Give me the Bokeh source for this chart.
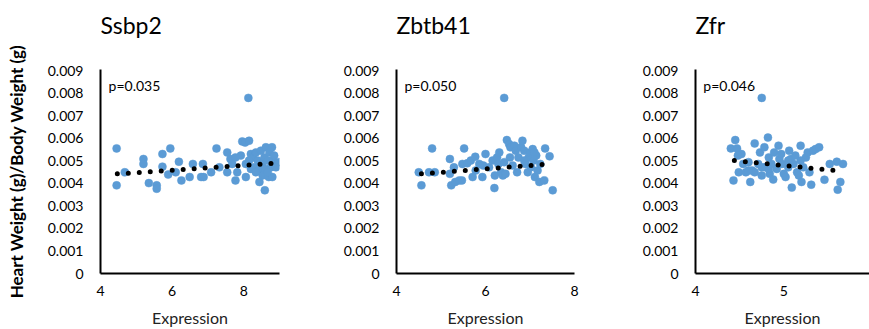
from bokeh.plotting import figure
from bokeh.layouts import row
from bokeh.models import FixedTicker, CustomJSTickFormatter, Label, Range1d, Title
from bokeh.embed import file_html
from bokeh.resources import INLINE

# ---------------- data ----------------
titles = ["Ssbp2", "Zbtb41", "Zfr"]
p_values = ["p=0.035", "p=0.050", "p=0.046"]
y_label = "Heart Weight (g)/Body Weight (g)"
x_label = "Expression"
y_ticks = [0, 0.001, 0.002, 0.003, 0.004, 0.005, 0.006, 0.007, 0.008, 0.009]
x_ticks1 = [4, 6, 8]
x_ticks2 = [4, 6, 8]
x_ticks3 = [4, 5, 6]

ssbp2_x = [4.45, 4.45, 4.68, 5.2, 5.2, 5.35, 5.57, 5.57, 5.73, 5.73, 5.89, 5.95, 6.1, 6.19, 6.26,
           6.49, 6.58, 6.81, 6.86, 6.88, 7.09, 7.24, 7.32, 7.54, 7.54, 7.63, 7.68, 7.77, 7.82, 7.92,
           7.96, 8.04, 8.06, 8.06, 8.13, 8.15, 8.2, 8.2, 8.26, 8.29, 8.34, 8.39, 8.42, 8.44, 8.48,
           8.52, 8.53, 8.58, 8.6, 8.62, 8.59, 8.67, 8.7, 8.72, 8.76, 8.79, 8.82, 8.85, 8.8, 8.98,
           8.67, 8.34, 8.15, 7.77, 8.9]
ssbp2_y = [0.00555, 0.00391, 0.00449, 0.00508, 0.00486, 0.00401, 0.00391, 0.00376, 0.0053, 0.00474,
           0.00439, 0.00555, 0.00449, 0.00496, 0.00413, 0.00428, 0.00486, 0.00428, 0.00486, 0.00428,
           0.00449, 0.00555, 0.00471, 0.00537, 0.00449, 0.00508, 0.00486, 0.00413, 0.00449, 0.00523,
           0.00586, 0.00581, 0.00486, 0.00428, 0.00779, 0.00589, 0.0053, 0.00464, 0.00515, 0.00471,
           0.00537, 0.00501, 0.00457, 0.00406, 0.00545, 0.00486, 0.00435, 0.00515, 0.00464, 0.0056,
           0.00369, 0.00501, 0.00428, 0.00537, 0.00471, 0.0056, 0.00501, 0.00523, 0.00428, 0.00494,
           0.00449, 0.00449, 0.00501, 0.00515, 0.00471]
ssbp2_trend_x = [4.47, 9.0]
ssbp2_trend_y = [0.00442, 0.0049]

zbtb41_x = [4.5, 4.56, 4.73, 4.8, 4.86, 5.2, 5.2, 5.23, 5.29, 5.32, 5.41, 5.47, 5.48, 5.52, 5.59,
            5.67, 5.71, 5.77, 5.78, 5.86, 5.93, 5.95, 6.0, 6.08, 6.16, 6.2, 6.21, 6.26, 6.29, 6.31,
            6.35, 6.39, 6.42, 6.42, 6.45, 6.48, 6.53, 6.55, 6.56, 6.61, 6.65, 6.68, 6.71, 6.74, 6.8,
            6.83, 6.87, 6.9, 6.95, 6.97, 7.01, 7.02, 7.06, 7.08, 7.11, 7.14, 7.17, 7.21, 7.23, 7.32,
            7.34, 7.44, 7.51, 6.87, 7.1]
zbtb41_y = [0.00449, 0.00391, 0.00449, 0.00555, 0.00449, 0.00442, 0.00508, 0.00391, 0.00471, 0.00406,
            0.00413, 0.00413, 0.00486, 0.00555, 0.00489, 0.00501, 0.00428, 0.00518, 0.00457, 0.00486,
            0.00428, 0.00479, 0.0053, 0.00471, 0.00501, 0.00379, 0.00435, 0.00515, 0.00486, 0.00537,
            0.00449, 0.00435, 0.00779, 0.00494, 0.00442, 0.00592, 0.00574, 0.00515, 0.0056, 0.00479,
            0.00567, 0.00545, 0.00449, 0.00515, 0.0056, 0.00589, 0.00545, 0.00486, 0.00449, 0.00515,
            0.00537, 0.00471, 0.00552, 0.00501, 0.00428, 0.00523, 0.00457, 0.00406, 0.00486, 0.00413,
            0.00555, 0.0052, 0.00369, 0.00501, 0.00537]
zbtb41_trend_x = [4.56, 7.44]
zbtb41_trend_y = [0.00442, 0.00486]

zfr_x = [4.4, 4.43, 4.45, 4.47, 4.49, 4.52, 4.54, 4.57, 4.6, 4.62, 4.64, 4.67, 4.67, 4.71, 4.73,
         4.75, 4.75, 4.78, 4.79, 4.82, 4.83, 4.84, 4.86, 4.88, 4.89, 4.92, 4.94, 4.95, 4.97, 5.0,
         5.02, 5.05, 5.06, 5.08, 5.09, 5.11, 5.13, 5.15, 5.17, 5.19, 5.2, 5.22, 5.25, 5.27, 5.29,
         5.31, 5.33, 5.36, 5.4, 5.46, 5.52, 5.6, 5.61, 5.64, 5.67, 4.98, 4.6, 4.48, 5.05, 4.83,
         4.75, 5.19]
zfr_y = [0.00555, 0.00413, 0.00592, 0.00555, 0.00449, 0.0053, 0.00486, 0.00449, 0.00494, 0.00406,
         0.00457, 0.00577, 0.00449, 0.00486, 0.00537, 0.00779, 0.00435, 0.0056, 0.00471, 0.00603,
         0.00515, 0.00442, 0.00486, 0.00417, 0.00537, 0.00464, 0.00567, 0.00508, 0.0053, 0.00442,
         0.00428, 0.00471, 0.00545, 0.00508, 0.00381, 0.00486, 0.00523, 0.00449, 0.00435, 0.00567,
         0.00406, 0.00471, 0.00515, 0.00537, 0.00449, 0.00394, 0.00545, 0.00552, 0.0056, 0.00416,
         0.00486, 0.00496, 0.00372, 0.00406, 0.00486, 0.00486, 0.00457, 0.00523, 0.00501, 0.00464,
         0.00471, 0.00501]
zfr_trend_x = [4.44, 5.65]
zfr_trend_y = [0.00501, 0.00454]

# ---------------- style ----------------
FONT = "Lato"
BLUE = "#5B9BD5"
H = 329
TOP = 69
BOTTOM = 55
Y_END = 0.00905

yfmt = CustomJSTickFormatter(code="return Math.abs(tick) < 1e-9 ? '0' : tick.toFixed(3);")


def make_panel(title, ptxt, xs, ys, tx, ty, x_start, x_end, xticks, width, left, right, ylab=None):
    p = figure(width=width, height=H, output_backend="svg", toolbar_location=None,
               title=None,
               x_range=Range1d(x_start, x_end), y_range=Range1d(0, Y_END),
               min_border_left=left, min_border_right=right,
               min_border_top=TOP, min_border_bottom=BOTTOM,
               outline_line_color=None, background_fill_color="white",
               border_fill_color="white")
    p.grid.visible = False
    # empty spacer title next to the frame, then the real title above it
    p.add_layout(Title(text=" ", text_font=FONT, text_font_size="24px", standoff=0), "above")
    p.add_layout(Title(text=title, text_font=FONT, text_font_size="23px",
                       text_font_style="normal", text_color="black", align="left",
                       standoff=0), "above")

    for ax in (p.xaxis[0], p.yaxis[0]):
        ax.axis_line_width = 2
        ax.axis_line_color = "black"
        ax.major_tick_line_color = None
        ax.minor_tick_line_color = None
        ax.major_tick_out = 0
        ax.major_tick_in = 0
        ax.major_label_text_font = FONT
        ax.major_label_text_font_size = "14px"
        ax.major_label_text_color = "black"

    p.xaxis.ticker = FixedTicker(ticks=xticks)
    p.xaxis.major_label_standoff = 12
    p.xaxis.axis_label = x_label
    p.xaxis.axis_label_text_font = FONT
    p.xaxis.axis_label_text_font_size = "16px"
    p.xaxis.axis_label_text_font_style = "normal"
    p.xaxis.axis_label_text_color = "#222222"
    p.xaxis.axis_label_standoff = 9

    p.yaxis.ticker = FixedTicker(ticks=y_ticks)
    p.yaxis.formatter = yfmt
    p.yaxis.major_label_standoff = 17
    if ylab:
        p.yaxis.axis_label = ylab
        p.yaxis.axis_label_text_font = FONT
        p.yaxis.axis_label_text_font_size = "17px"
        p.yaxis.axis_label_text_font_style = "bold"
        p.yaxis.axis_label_text_color = "black"
        p.yaxis.axis_label_standoff = 18

    p.scatter(xs, ys, size=8, fill_color=BLUE, line_color=BLUE, line_width=0.5)
    p.line(tx, ty, line_color="black", line_width=5, line_dash="0 11", line_cap="round")

    lx = x_start + 0.045 * (x_end - x_start)
    p.add_layout(Label(x=lx, y=Y_END * 0.921, text=ptxt, text_font=FONT,
                       text_font_size="14px", text_color="black", text_baseline="middle"))
    return p


p1 = make_panel(titles[0], p_values[0], ssbp2_x, ssbp2_y, ssbp2_trend_x, ssbp2_trend_y,
                4, 9, x_ticks1, 290, 100, 11, ylab=y_label)
p2 = make_panel(titles[1], p_values[1], zbtb41_x, zbtb41_y, zbtb41_trend_x, zbtb41_trend_y,
                4, 8, x_ticks2, 290, 106, 6)
p3 = make_panel(titles[2], p_values[2], zfr_x, zfr_y, zfr_trend_x, zfr_trend_y,
                4, 5.97, x_ticks3, 289, 115, 0)

layout = row(p1, p2, p3, spacing=0)
open("out.html", "w").write(file_html(layout, INLINE))
